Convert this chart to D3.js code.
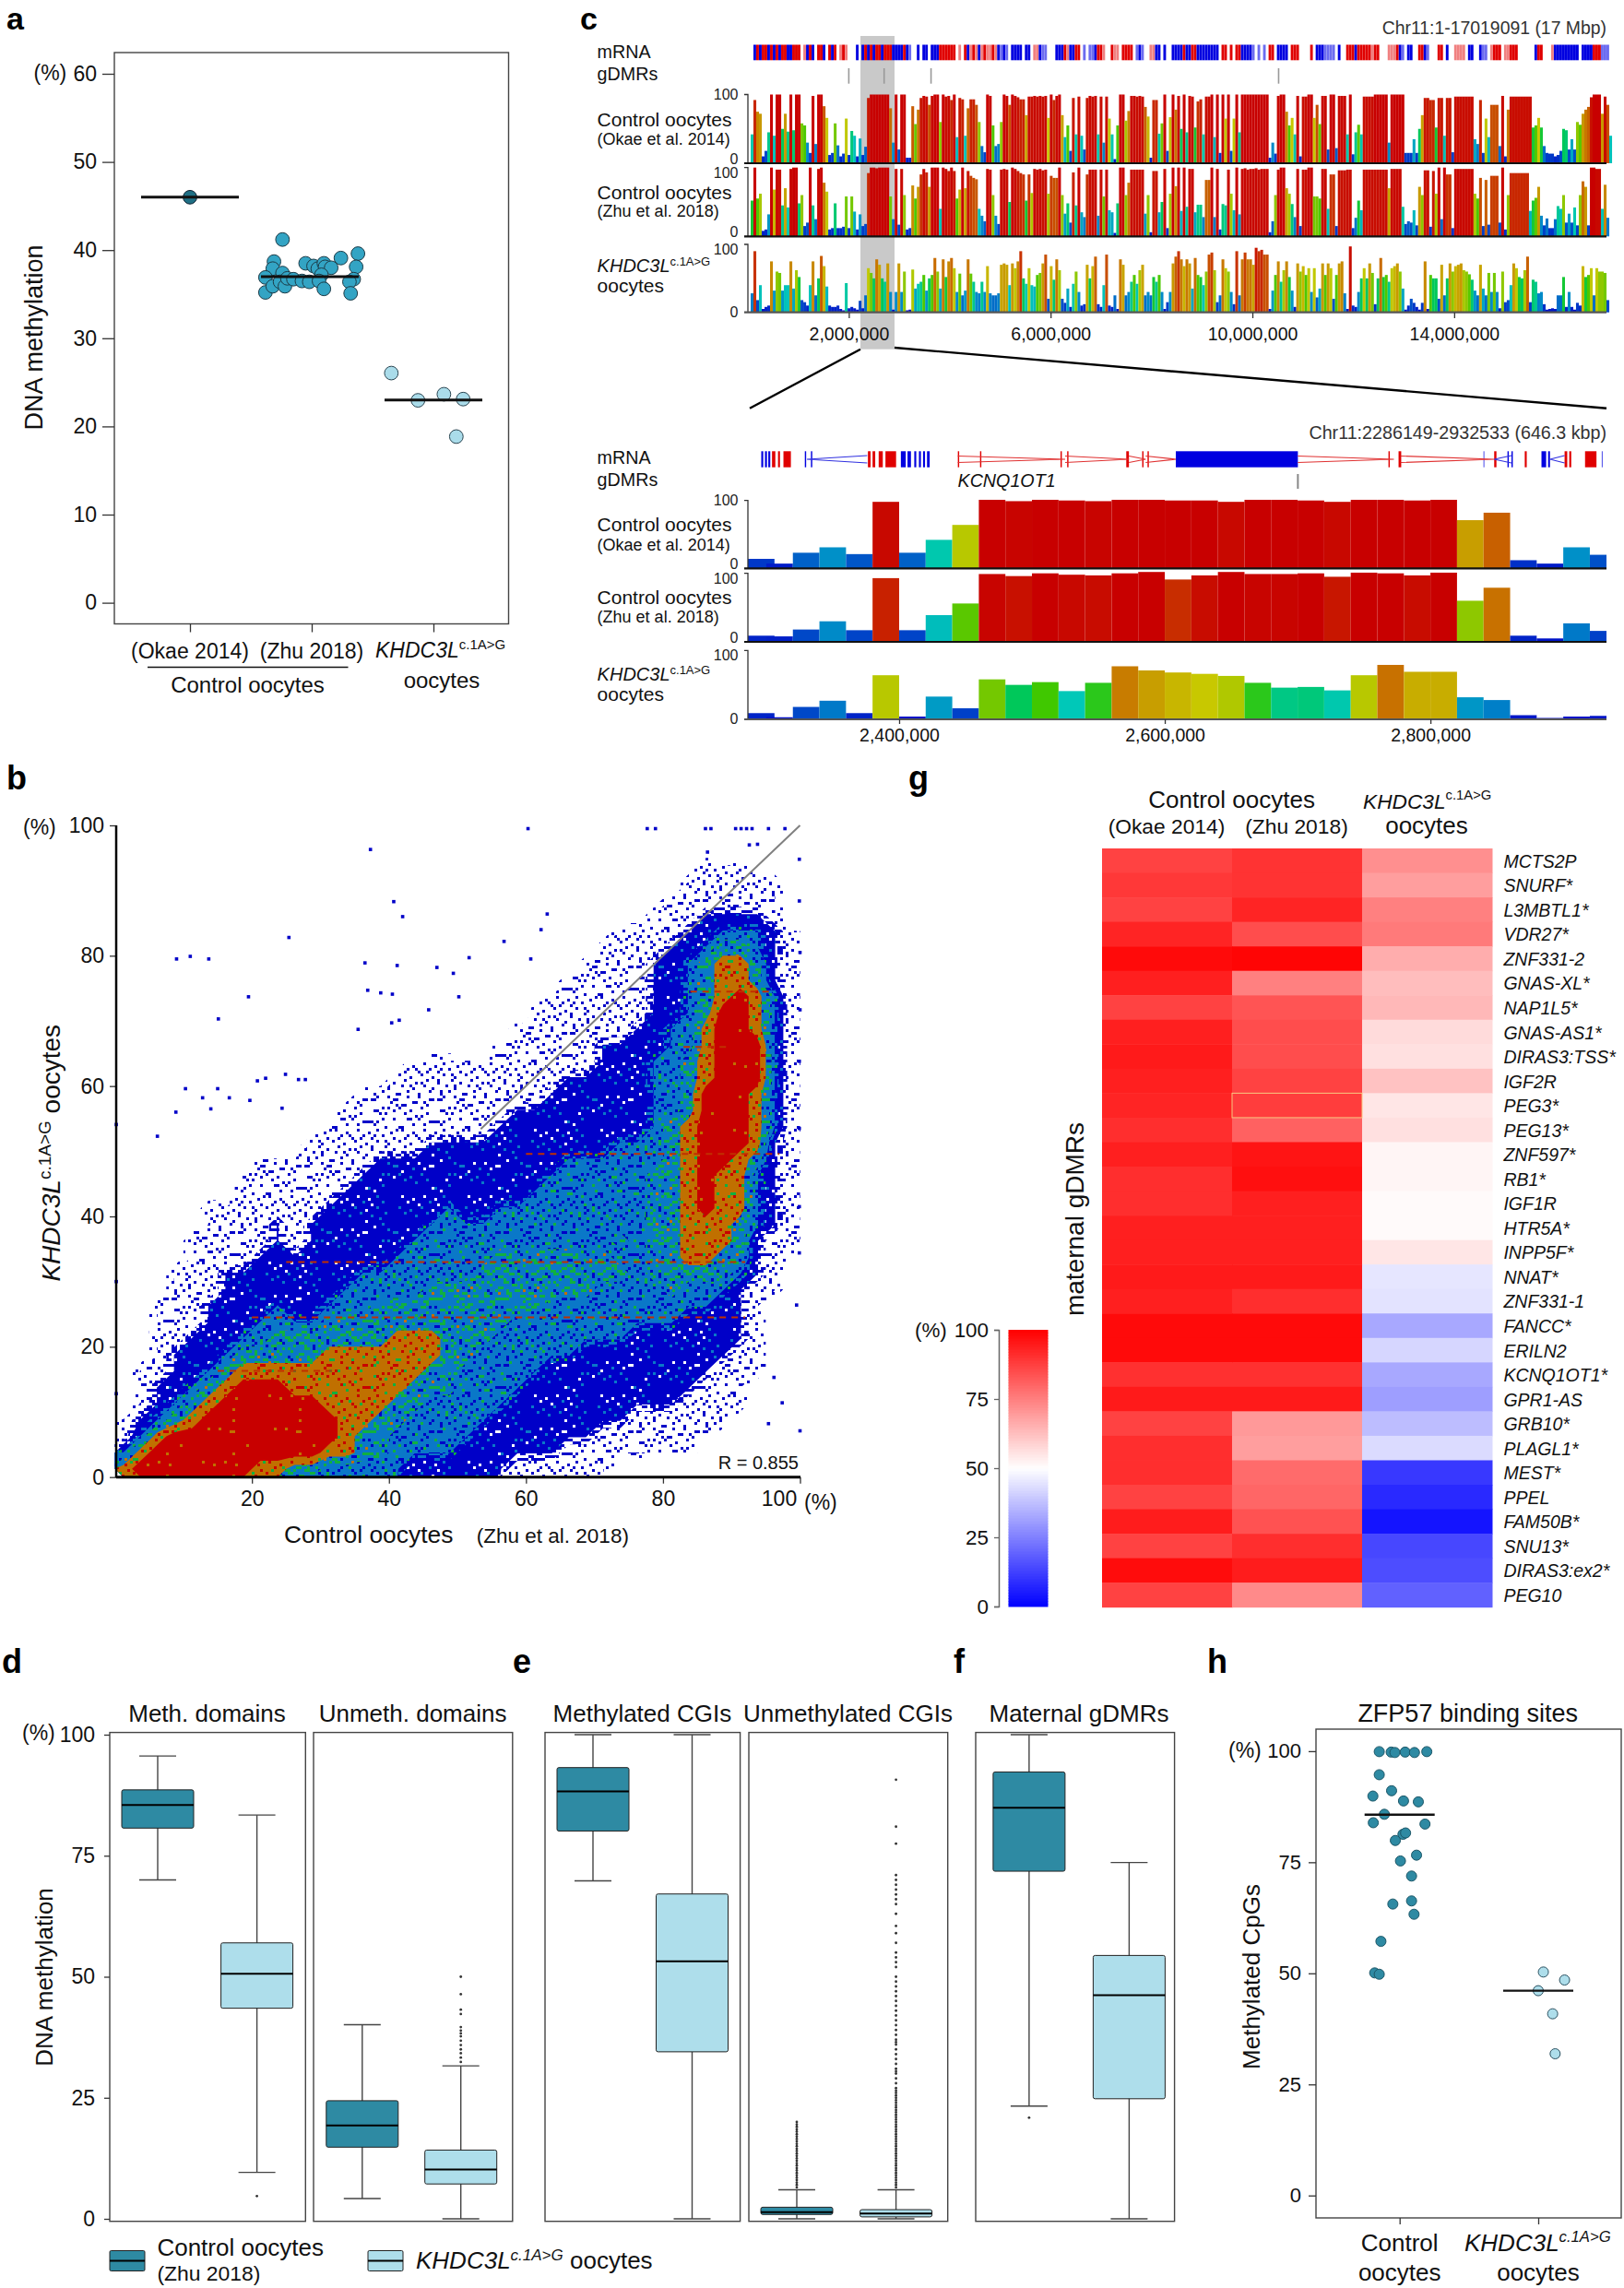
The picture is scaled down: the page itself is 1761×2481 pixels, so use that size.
<!DOCTYPE html>
<html>
<head>
<meta charset="utf-8">
<script src="https://cdn.jsdelivr.net/npm/d3@7"></script>
<style>
  html, body { margin: 0; background: #fff; }
  svg { display: block; }
</style>
</head>
<body>
<script>
// ---- panel a
const aCategories = ["(Okae 2014)", "(Zhu 2018)", "KHDC3L"];
const aTicks = [0, 10, 20, 30, 40, 50, 60];
const aMedians = [46, 37, 23];
const okaeMeth = [46];
const zhuJitter = [-0.24,-0.31,-0.32,-0.38,-0.38,-0.32,-0.24,-0.26,-0.22,-0.2,-0.15,-0.08,-0.02,-0.05,0.015,0.05,0.1,0.11,0.16,0.08,0.06,0.1,0.24,0.38,0.365,0.345,0.31,0.32];
const zhuMeth = [41.2,38.7,37.9,36.9,35.2,35.9,37.4,36.4,35.9,36.8,36.7,36.5,36.4,38.5,38.2,37.9,38.5,38.1,38,37.2,36.5,35.6,39.1,39.6,38.1,36.7,36.4,35.1];
const khdcJitter = [-0.346,-0.127,0.086,0.244,0.188];
const khdcMeth = [26.05,22.96,23.65,23.1,18.85];

// ---- panel b: density levels, one string per 2.5% row, top row first
// 0 empty, 1 sparse, 2 dense blue, 3 light blue, 4 green, 5 orange, 6 red
const densityRows = [
  "0000000000 0000000000 0000000000 0000000000",
  "0000000000 0000000000 0000000000 0000000000",
  "0000000000 0000000000 0000000000 0000111000",
  "0000000000 0000000000 0000000000 0001111110",
  "0000000000 0000000000 0000000000 0011111110",
  "0000000000 0000000000 0000000000 0111222210",
  "0000000000 0000000000 0000000001 1112233321",
  "0000000000 0000000000 0000000011 1122344321",
  "0000000000 0000000000 0000000111 1223455421",
  "0000000000 0000000000 0000001111 1223455421",
  "0000000000 0000000000 0000011111 1223456531",
  "0000000000 0000000000 0000111111 1223466531",
  "0000000000 0000000000 0001111111 2233566531",
  "0000000000 0000000000 0011111122 2233566631",
  "0000000000 0000000111 1111111122 2334566631",
  "0000000000 0000001111 1111112222 2334566631",
  "0000000000 0000111111 1111122222 2334666531",
  "0000000000 0001111111 1112222222 2334666531",
  "0000000000 0011111111 1122222222 2345666531",
  "0000000000 0111111122 2222222223 3345666521",
  "0000000011 1111122222 2222223333 3345665421",
  "0000000111 1111222222 2222233333 3445655321",
  "0000000111 1112222222 2222333333 3445655321",
  "0000011111 1122222223 2233333333 3445655321",
  "0000011112 1222222233 3333333333 3445554321",
  "0000111112 1222222333 3333333334 3445554211",
  "0000111122 2222223333 3344444443 3445544211",
  "0001112222 2222333333 3444444444 3444443210",
  "0001112222 2223333344 4444444433 3343332110",
  "0011122223 2233344444 4444433333 3333322100",
  "0011122233 3344444444 4443333333 3332222100",
  "0011222334 4444445554 4433333333 2222222100",
  "0012223444 4455555554 4333333222 2222221100",
  "0112234555 5555555544 3333322222 2222211100",
  "0122345666 5555555444 3333222222 2222111000",
  "0123456666 6655554433 3332222222 2221111000",
  "1234566666 6665544333 3322222222 1111110000",
  "1356666666 6665443333 3222222211 1111100000",
  "3566666666 6655443333 2222221111 1111000000",
  "5666666655 4433333222 2221111110 0000000000"
];
// single points outside the dense cloud
const looseX = [60.3,77.7,78.9,86.2,87,90.6,91.4,92.2,93,95.4,97.8,37.3,40.7,42,25.4,9,11,13.7,19.5,15.1,36.5,41.2,36.9,38.8,40.5,47,45.8,40.4,41.5,35.5,49.4,51.7,50.2,56.8,60.7,63.1,62.2,0.2,6.2,8.9,10.3,15,12.8,14,16.7,20.8,22,19.7,24.9,24.4,26.8,27.8,0.2,0.2,99.9,99.9,100,95.4,97.4,96.2,99.5,99.9,99.9,99.9,99.9,100,100,93.8,92.6,86.5];
const looseY = [99.5,99.5,99.5,99.5,99.5,99.5,99.5,99.5,99.5,99.5,99.5,96.3,88.3,86,82.8,79.5,79.9,79.5,73.7,70.3,78.9,78.5,74.7,74.3,74.1,78.2,71.7,69.7,70.1,68.7,77.3,79.7,73.7,82.2,79.5,86.4,84,54.1,52.3,56,59.6,59.6,58.2,56.5,58.2,60.8,61.2,57.8,61.8,56.6,61,61,30,12.8,94.8,88.4,7.1,8.2,11.4,15.3,26.4,34.4,41.5,53.5,63.8,71.7,80.5,97.1,97,95.9];
const streakY = [49.6, 74.5, 66, 33, 24.5, 16.3];
const streakFrom = [60, 84, 83, 25, 20, 15];
const streakTo = [97, 96, 90, 92, 92, 32];
const bTicks = [20, 40, 60, 80, 100];
const bYTicks = [0, 20, 40, 60, 80, 100];

// ---- panel c, whole region: one value per 55 kb bin
const chrTicks = [2000000, 6000000, 10000000, 14000000];
const chrGdmrs = [2000000, 2700000, 3630000, 10520000];
const chrMeth1 = [
  0,42,92,75,72,10,18,45,100,40,100,100,50,72,46,100,48,100,100,58,55,30,15,98,28,100,100,83,66,12,15,58,26,10,14,65,12,47,40,10,
  36,12,24,95,100,100,100,100,100,100,100,80,30,100,20,100,100,8,8,83,57,78,95,98,97,85,98,100,100,60,100,97,98,92,100,38,95,93,40,80,
  93,93,85,60,25,16,100,98,55,25,28,60,100,98,85,100,98,96,93,93,70,97,
  97,98,97,98,97,98,66,100,92,98,100,70,38,55,18,95,42,97,40,20,95,98,97,98,42,97,30,97,65,42,6,55,100,100,62,76,98,98,97,98,97,82,68,8,92,92,43,58,100,18,67,100,78,98,50,100,45,98,97,52,90,93,42,97,97,100,38,100,15,100,65,100,18,65,100,45,100,100,100,100,100,100,100,100,100,100,8,30,14,98,100,100,75,55,66,42,98,10,97,97,100,100,66,85,57,
  98,98,20,100,100,22,98,98,98,42,100,13,45,56,42,97,97,97,97,100,100,100,100,100,30,100,100,100,100,100,15,15,15,35,15,50,70,95,95,92,92,52,95,95,40,95,95,16,97,97,97,97,97,97,97,35,28,92,15,65,38,85,85,85,25,98,10,78,97,97,97,97,97,97,97,97,52,55,66,52,25,15,14,14,10,12,18,50,48,20,35,20,60,56,72,78,82,96,100,100,100,72,97,85,40
];
const chrMeth2 = [
  0,52,100,55,62,8,10,32,100,68,97,97,45,70,42,98,100,100,48,60,15,20,100,45,25,98,100,78,65,10,12,48,12,12,14,58,12,58,36,10,
  32,15,18,92,100,100,99,100,100,100,100,58,25,98,17,98,60,10,12,74,55,72,90,98,93,72,100,100,100,40,100,98,95,100,95,55,68,100,70,95,
  88,85,83,40,30,22,98,97,60,30,18,97,98,97,50,100,98,95,92,90,52,90,
  63,98,97,98,96,97,62,88,85,85,100,60,33,48,20,93,45,100,35,28,90,97,97,97,30,97,58,97,38,35,5,48,100,100,60,78,97,97,97,97,97,33,60,6,95,95,35,50,98,12,62,100,73,100,37,100,43,98,98,35,46,46,28,82,82,100,28,98,10,47,45,97,62,38,100,32,98,99,97,98,98,99,97,98,98,98,6,22,60,97,100,100,70,62,47,28,98,15,97,97,100,100,58,58,55,
  98,98,40,90,90,15,96,96,96,97,97,12,27,52,38,97,97,97,97,97,97,97,97,97,70,98,98,98,98,43,18,22,20,38,16,72,60,96,96,14,95,62,100,25,100,90,90,12,98,98,98,98,98,98,98,62,55,85,15,82,17,88,88,88,20,100,10,60,92,92,92,92,92,92,92,37,52,56,72,30,16,26,12,12,25,44,40,60,20,33,20,42,16,60,80,72,16,100,100,98,98,40,75,27
];
const chrMeth3 = [
  0,28,90,18,40,5,8,10,75,32,60,58,32,40,40,75,35,62,52,18,15,10,40,75,25,50,83,68,38,10,8,8,10,5,3,43,6,8,6,4,
  17,6,25,65,58,50,78,70,50,45,72,30,4,30,72,30,60,3,4,63,35,42,45,55,32,50,55,80,60,35,78,52,75,80,65,30,57,25,32,78,
  57,45,30,28,45,30,68,28,25,25,28,70,72,70,40,72,65,75,90,50,42,65,
  40,38,55,58,72,85,20,68,48,78,62,20,14,35,8,42,60,30,10,12,70,50,68,82,12,8,40,85,10,8,25,5,78,70,25,30,45,55,42,62,70,25,30,25,52,45,55,30,5,15,30,72,82,90,78,68,78,72,35,80,55,52,40,60,85,88,62,15,25,78,65,60,30,12,90,25,78,88,78,78,70,95,90,92,85,85,5,32,55,75,45,62,75,52,32,8,72,60,68,55,65,30,65,22,35,
  72,55,72,65,20,55,72,75,28,5,97,10,8,30,50,65,50,72,58,12,50,80,52,55,45,65,68,72,60,35,4,10,20,14,8,4,14,75,5,55,50,50,20,70,25,50,72,60,68,70,72,62,60,56,48,32,25,70,35,25,58,30,58,30,6,60,15,18,40,72,65,52,50,62,82,15,48,45,28,30,12,4,5,6,5,25,25,52,8,30,8,4,14,10,68,52,55,65,25,65,60,60,58,18
];
// strand of the transcript in each bin: r plus, b minus, m / l thin, . none
const chrMrna = [
  "..brbrrbrb","rbrrbbrrr.","mbrb.rrb.r","br.mrm...b",".brbrbrrbr","rrbbbbrbl.",".b.bb.bbbr","rrrrr.m.rb","mrmbmrmmrm","blbl.bbbb.","bb",
  ".mmbll...b","bbrmbbrr.l",".llbrrm..r","mm.rrrr.lb","l..mmbb.b.",".bbbbrbbrr","bbbbbbbb.r","r.r.rrbbbb","l.l.l.rr.b","bbb.rrr...",".r.bb",
  "bllll.b..r","rrbrrrrrmr","r...mmmrbl",".bb..rrbl.","..rr.b..mm","mm.bb..bll",".mrrr.mmrr","r......brr","...mbbbbbb","bbb.bbbbrr","rlll"
].join("");

// ---- panel c, zoomed region: 20 kb windows
const zoomStarts = [2286149,2300000,2320000,2340000,2360000,2380000,2400000,2420000,2440000,2460000,2480000,2500000,2520000,2540000,2560000,2580000,2600000,2620000,2640000,2660000,2680000,2700000,2720000,2740000,2760000,2780000,2800000,2820000,2840000,2860000,2880000,2900000,2920000];
const zoomMeth1 = [14,7,23,31,21,98,23,42,64,101,99,101,100,99,101,101,100,100,98,101,101,100,98,101,101,100,101,71,82,12,7,31,20];
const zoomMeth2 = [9,8,18,30,17,93,17,39,56,99,96,100,98,97,100,102,91,97,102,99,99,100,95,101,100,97,101,60,79,9,5,27,16];
const zoomMeth3 = [9,3,18,27,9,64,4,33,16,58,50,54,41,53,77,71,68,66,63,53,46,47,42,64,79,69,69,32,28,6,2,4,5];
const zoomTicks = [2400000, 2600000, 2800000];
const zoomGdmr = [2700200];
// exons in kb
const blueExonFrom = [2296.2,2299,2301.5,2329,2333.6,2401.3,2406.3,2411.4,2414.9,2418,2421,2608.3,2840,2858,2861,2883.6,2888.6,2929];
const blueExonTo = [2297.7,2300.5,2303,2330,2334.6,2405,2408.9,2412.9,2416.4,2419.5,2423,2700.2,2840.5,2859,2862,2887.1,2890,2929.5];
const redExonFrom = [2304.3,2308.8,2312.9,2376.5,2380,2384.6,2389.7,2444.2,2460.9,2521.5,2526.5,2571,2583,2587,2768.4,2776,2848,2871,2901,2904.5,2916.4];
const redExonTo = [2306.8,2310.3,2318.5,2378.5,2382,2387.7,2397.7,2445.2,2461.9,2522.5,2527.5,2573,2584,2588,2769.4,2778,2849.7,2872.5,2903,2906,2925];
const redIntronFrom = [2444.2,2525,2573,2585.6,2700.2,2777.5];
const redIntronTo = [2525,2573,2585.6,2608.3,2772.5,2848];
const blueIntronFrom = [2330.6,2848,2890];
const blueIntronTo = [2376,2861,2901];

// ---- panels d, e, f: control box then KHDC3L box of every panel
const boxTitles = ["Meth. domains","Unmeth. domains","Methylated CGIs","Unmethylated CGIs","Maternal gDMRs"];
const boxTicks = [0, 25, 50, 75, 100];
const whiskerHigh = [95.6,83.4,40.1,31.6,100,100,6,6,100,73.6];
const quartile3 = [88.6,57,24.4,14.2,93.2,67.1,2.4,1.9,92.3,54.4];
const medians = [85.5,50.6,19.3,10.2,88.3,53.2,1.4,1.1,84.9,46.2];
const quartile1 = [80.7,43.5,14.8,7.2,80.1,34.5,0.9,0.4,71.8,24.8];
const whiskerLow = [70,9.6,4.2,0,69.8,0,0,0,23.3,0];
const boxOutliers = [
  [], [4.7], [],
  [50,46.4,43.2,42.3,39.6,38.9,38.3,37.7,36.8,35.9,35,34.2,33.3,32.4],
  [], [],
  [6.5,7,7.5,8,8.5,9,9.5,10,10.5,11,11.5,12,12.5,13,13.5,14,14.5,15,15.5,16,16.5,17,17.5,18,18.5,19,19.5,20],
  [6.5,7,7.5,8,8.5,9,9.5,10,10.5,11,11.5,12,12.5,13,13.5,14,14.5,15,15.5,16,16.5,17,17.5,18,18.5,19,19.5,20,20.5,21,21.5,22,22.5,23,23.5,24,24.5,25,25.5,26,26.5,27,28,29,30,30.5,31,32,33,34,35,36,36.5,37,38,39,40,41,42,43,44,45,46,47,48,49,50,52,53,54,55,57,59,60.5,63,65,66,67,68,69,70,71,77.5,81,90.7],
  [20.9], []
];

// ---- panel g
const genes = ["MCTS2P","SNURF*","L3MBTL1*","VDR27*","ZNF331-2","GNAS-XL*","NAP1L5*","GNAS-AS1*","DIRAS3:TSS*","IGF2R","PEG3*","PEG13*","ZNF597*","RB1*","IGF1R","HTR5A*","INPP5F*","NNAT*","ZNF331-1","FANCC*","ERILN2","KCNQ1OT1*","GPR1-AS","GRB10*","PLAGL1*","MEST*","PPEL","FAM50B*","SNU13*","DIRAS3:ex2*","PEG10"];
const heatOkae = [87,89,87,93,98,94,87,94,95,94,93,91,94,91,91,94,94,95,94,98,98,90.6,95,87,91,91,87,94.5,87,97.6,87];
const heatZhu = [90,90,93,85,99,75,83.5,85,85,87,88,81,96,97,94,94,94,95,91,98,98,90.6,95,70,69,79,80,84,91,94.5,73];
const heatKhdc = [72,69,75,76,66,63,64,57,56,62,55,56,52,52,51,51,55,45,44.5,33,42,33,31,37,43,11,8,4,14,15,19];
const heatTicks = [0, 25, 50, 75, 100];

// ---- panel h
const hTicks = [0, 25, 50, 75, 100];
const hControlJitter = [-0.147,-0.061,-0.034,0.04,0.107,0.196,-0.147,-0.058,-0.193,0.028,0.135,-0.11,-0.19,0.183,0.024,0.043,-0.031,0.122,0.006,0.086,0.086,-0.049,0.104,-0.135,-0.18,-0.147];
const hControlMeth = [99.9,99.8,99.7,99.8,99.7,99.9,94.7,91.1,89.9,88.8,88.6,85.8,83.9,83.6,81.3,81.6,79.9,76.6,75.3,71.9,66.3,65.6,63.3,57.2,50.1,49.8];
const hKhdcJitter = [0.037,0.19,0,0.104,0.122];
const hKhdcMeth = [50.3,48.5,46.1,40.9,31.9];
const hMedians = [85.7, 46.1];

const FONT = "'Liberation Sans', Arial, sans-serif";
const DARK = "#2e8aa3";
const LIGHT = "#aedeeb";

const svg = d3.select("body").append("svg")
  .attr("width", 1761)
  .attr("height", 2481)
  .attr("font-family", FONT);

// helpers
const txt = (sel, x, y, s, size, opt = {}) => sel.append("text")
  .attr("x", x).attr("y", y)
  .attr("font-size", size)
  .attr("text-anchor", opt.anchor || "start")
  .attr("font-style", opt.italic ? "italic" : "normal")
  .attr("font-weight", opt.bold ? "bold" : "normal")
  .attr("fill", opt.fill || "#111")
  .text(s);

const vtxt = (x, y, s, size) => txt(svg.append("g").attr("transform", `translate(${x},${y}) rotate(-90)`), 0, 0, s, size, {anchor: "middle"});

// KHDC3L with the raised c.1A>G
const khdc = (sel, x, y, size, supSize, rise, supItalic) => {
  const t = sel.append("text").attr("x", x).attr("y", y).attr("fill", "#111");
  t.append("tspan").attr("font-size", size).attr("font-style", "italic").text("KHDC3L");
  t.append("tspan").attr("font-size", supSize).attr("dy", -rise)
    .attr("font-style", supItalic ? "italic" : "normal").text("c.1A>G");
  return t;
};

const styleAxis = (g, size) => {
  g.select(".domain").remove();
  g.selectAll("text").attr("font-size", size).attr("font-family", FONT).attr("fill", "#111");
  g.selectAll("line").attr("stroke", "#333").attr("stroke-width", 1.3);
};

const frame = (x0, x1, y0, y1) => svg.append("rect")
  .attr("x", x0).attr("y", y0).attr("width", x1 - x0).attr("height", y1 - y0)
  .attr("fill", "none").attr("stroke", "#444").attr("stroke-width", 1.4);

const dots = (xs, ys, r, fill, stroke) => {
  svg.append("g").selectAll("circle").data(xs).join("circle")
    .attr("cx", d => d).attr("cy", (d, i) => ys[i]).attr("r", r)
    .attr("fill", fill).attr("stroke", stroke).attr("stroke-width", 1);
};

const hline = (x0, x1, y, w, color) => svg.append("line")
  .attr("x1", x0).attr("x2", x1).attr("y1", y).attr("y2", y)
  .attr("stroke", color || "#111").attr("stroke-width", w);

// panel letters
const letterX = ["a","b","c","d","e","f","g","h"];
const letterPos = [[7,32],[7,856],[629,32],[2,1814],[556,1814],[1034,1814],[985,856],[1309,1814]];
letterX.forEach((l, i) => txt(svg, letterPos[i][0], letterPos[i][1], l, i === 0 || i === 2 ? 34 : 36, {bold: true, fill: "#000"}));

// ---------- panel a
{
  const y = d3.scaleLinear().domain([0, 60]).range([653.6, 80]);
  const x = d3.scaleLinear().domain([1, 3]).range([206, 470]);
  frame(124, 551.5, 57, 676.5);
  svg.append("g").attr("transform", "translate(124,0)")
    .call(d3.axisLeft(y).tickValues(aTicks).tickSize(13).tickPadding(6))
    .call(styleAxis, 23);
  svg.append("g").attr("transform", "translate(0,676.5)")
    .call(d3.axisBottom(x).tickValues([1, 2, 3]).tickSize(9).tickFormat(""))
    .call(styleAxis, 23);
  txt(svg, 36.5, 87, "(%)", 23);

  dots(okaeMeth.map(() => x(1)), okaeMeth.map(y), 7.4, "#1f6f84", "#123");
  dots(zhuJitter.map(d => x(2 + d)), zhuMeth.map(y), 7.4, "#33a4c4", "#1c3a46");
  dots(khdcJitter.map(d => x(3 + d)), khdcMeth.map(y), 7.4, "#aadcea", "#2a4450");
  hline(x(1) - 53, x(1) + 53, y(aMedians[0]), 3);
  hline(x(2) - 55, x(2) + 51, y(aMedians[1]), 3);
  hline(x(3) - 53, x(3) + 53, y(aMedians[2]), 3);

  txt(svg, x(1), 714, aCategories[0], 23, {anchor: "middle"});
  txt(svg, x(2), 714, aCategories[1], 23, {anchor: "middle"});
  khdc(svg, 407, 713, 23, 15, 9);
  txt(svg, 479, 746, "oocytes", 24, {anchor: "middle"});
  txt(svg, 268.5, 751, "Control oocytes", 24, {anchor: "middle"});
  hline(160, 377.5, 723.5, 1.3);
  vtxt(46, 366, "DNA methylation", 27);
}

// ---------- panel b
{
  const x = d3.scaleLinear().domain([0, 100]).range([124.6, 867.5]);
  const y = d3.scaleLinear().domain([0, 100]).range([1601.7, 895]);

  // speckle tiles so the density bands read like overplotted points
  const speck = [[1,0],[5,1],[9,0],[3,2],[7,3],[11,2],[0,4],[4,5],[8,4],[2,6],[10,6],[6,7],[1,8],[5,9],[9,8],[3,10],[7,11],[11,10],[0,11],[8,7],[2,3],[10,3],[6,2],[4,8],[0,6],[8,10],[6,5],[3,7],[11,5],[1,10],[5,4],[9,11],[7,0],[2,9],[10,9],[4,2]];
  const spread = list => list.flatMap(([c, r]) => [[c, r], [r + 12, (c * 5) % 12], [(c * 7) % 12, r + 12], [(r * 5) % 12 + 12, (c + r) % 12 + 12]]);
  const defs = svg.append("defs");
  const tile = (id, bg, layers) => {
    const p = defs.append("pattern").attr("id", id).attr("patternUnits", "userSpaceOnUse")
      .attr("width", 72).attr("height", 72);
    if (bg) p.append("rect").attr("width", 72).attr("height", 72).attr("fill", bg);
    layers.forEach(([from, to, color, shift]) => {
      spread(speck.slice(from, to)).forEach(([c, r]) => {
        p.append("rect").attr("x", ((c + (shift || 0)) % 24) * 3).attr("y", r * 3).attr("width", 3).attr("height", 3).attr("fill", color);
      });
    });
  };
  const BLUE = "#0000c8", MID = "#0a78c8", GREEN = "#10b040";
  tile("lv1", null, [[0, 12, BLUE]]);
  tile("lv1b", null, [[0, 24, BLUE]]);
  tile("lv1c", null, [[0, 36, BLUE], [0, 36, BLUE, 1]]);
  tile("lv2", BLUE, [[0, 5, "#ffffff"], [5, 12, MID]]);
  tile("lv3a", BLUE, [[0, 30, MID], [0, 14, MID, 1], [30, 33, GREEN]]);
  tile("lv3b", MID, [[0, 22, BLUE], [22, 30, GREEN]]);
  tile("lv4", MID, [[0, 24, GREEN], [0, 10, GREEN, 1], [24, 32, BLUE], [32, 34, "#c07000"]]);
  tile("lv5", "#c07000", [[0, 16, "#c80000"], [16, 24, GREEN]]);
  tile("lv6", "#c80000", [[0, 3, "#c07000"]]);

  const grid = densityRows.join("").replace(/ /g, "").split("").map(Number);
  const levelCuts = [0.5, 0.95, 1.5, 1.95, 2.5, 2.95, 3.5, 4.5, 5.5];
  const fills = ["lv1", "lv1b", "lv1c", "lv2", "lv3a", "lv3b", "lv4", "lv5", "lv6"];
  const bands = d3.contours().size([40, 40]).thresholds(levelCuts)(grid);
  const path = d3.geoPath(d3.geoTransform({
    point(px, py) { this.stream.point(x(px * 2.5), y(100 - py * 2.5)); }
  }));
  svg.append("g").selectAll("path").data(bands).join("path")
    .attr("d", path).attr("fill", (d, i) => `url(#${fills[i]})`);

  svg.append("g").selectAll("rect").data(looseX).join("rect")
    .attr("x", d => x(d) - 1.8).attr("y", (d, i) => y(looseY[i]) - 1.8)
    .attr("width", 3.6).attr("height", 3.6).attr("fill", "#0000c8");

  svg.append("g").selectAll("line").data(streakY).join("line")
    .attr("x1", (d, i) => x(streakFrom[i])).attr("x2", (d, i) => x(streakTo[i]))
    .attr("y1", d => y(d)).attr("y2", d => y(d))
    .attr("stroke", "#c03000").attr("stroke-width", 2).attr("stroke-dasharray", "7 6");

  svg.append("line").attr("x1", x(53.4)).attr("y1", y(53.4)).attr("x2", x(100)).attr("y2", y(100))
    .attr("stroke", "#808080").attr("stroke-width", 2);

  svg.append("g").attr("transform", "translate(126,0)")
    .call(d3.axisLeft(y).tickValues(bYTicks).tickSize(7).tickPadding(6))
    .call(styleAxis, 23);
  svg.append("g").attr("transform", "translate(0,1601.7)")
    .call(d3.axisBottom(x).tickValues(bTicks).tickSize(7).tickPadding(8))
    .call(styleAxis, 23)
    .call(g => g.selectAll("text").filter(d => d === 100).attr("dx", -23));
  svg.append("line").attr("x1", 126).attr("x2", 126).attr("y1", 895).attr("y2", 1602).attr("stroke", "#000").attr("stroke-width", 2.5);
  hline(126, 868, 1601.7, 3, "#000");

  txt(svg, 25, 905, "(%)", 23);
  txt(svg, 872, 1636.5, "(%)", 23);
  txt(svg, 866, 1593, "R = 0.855", 20, {anchor: "end"});
  txt(svg, 308, 1673, "Control oocytes", 26.4);
  txt(svg, 516.8, 1673, "(Zhu et al. 2018)", 22.5);
  const g = svg.append("g").attr("transform", "translate(64.7,1389.6) rotate(-90)");
  const t = khdc(g, 0, 0, 28, 19, 10);
  t.append("tspan").attr("font-size", 28).attr("dy", 10).text(" oocytes");
}

// ---------- panel c
{
  const xChr = d3.scaleLinear().domain([0, 17019091]).range([811, 1742]);
  const xZoom = d3.scaleLinear().domain([2286149, 2932533]).range([811, 1742]);
  const methColor = d3.scaleLinear()
    .domain([0, 20, 31, 41, 51, 54, 62, 66, 70, 82, 96, 100])
    .range(["#0000c8","#0050c8","#0090c8","#00c8b8","#00c850","#40c800","#a8c800","#c8c800","#c8a400","#c86000","#c81000","#c80000"])
    .clamp(true);
  const binBp = 17019091 / 310;

  // highlighted window and the lines down to the zoomed view
  svg.append("rect").attr("x", 933).attr("y", 39).attr("width", 37).attr("height", 339.7).attr("fill", "#c9c9c9");
  svg.append("line").attr("x1", 933).attr("y1", 378.7).attr("x2", 813).attr("y2", 442.7).attr("stroke", "#000").attr("stroke-width", 2.4);
  svg.append("line").attr("x1", 970).attr("y1", 377).attr("x2", 1742).attr("y2", 442.7).attr("stroke", "#000").attr("stroke-width", 2.4);

  const tracks = (rows, drawBars) => rows.forEach((r, ri) => {
    const y = d3.scaleLinear().domain([0, 100]).range([r.y0, r.y100]);
    drawBars(r, y);
    svg.append("path").attr("d", `M807,${r.y100}H811V${r.y0}`).attr("fill", "none").attr("stroke", "#333").attr("stroke-width", 1.3);
    hline(807, 1742, r.y0, 2.2, ri === 2 ? "#555" : "#111");
    txt(svg, 800.5, r.y100 + (ri === 0 ? 5 : 11), "100", 16, {anchor: "end", fill: "#222"});
    txt(svg, 800.5, r.y0 + (ri === 2 ? 5 : 0.5), "0", 16, {anchor: "end", fill: "#222"});
    if (ri < 2) {
      txt(svg, 647.6, r.l1, "Control oocytes", 21);
      txt(svg, 647.6, r.l2, ri === 0 ? "(Okae et al. 2014)" : "(Zhu et al. 2018)", 18);
    } else {
      khdc(svg, 647.6, r.l1, 20, 13, 7);
      txt(svg, 647.6, r.l2, "oocytes", 21);
    }
  });

  // whole region
  txt(svg, 1742, 37, "Chr11:1-17019091 (17 Mbp)", 19.4, {anchor: "end", fill: "#333"});
  txt(svg, 647.6, 63, "mRNA", 19.7);
  txt(svg, 647.6, 86.7, "gDMRs", 19.7);
  const strandFill = {r: "#e00000", b: "#0000e0", m: "#f08080", l: "#6c6cf0"};
  svg.append("g").selectAll("rect")
    .data(chrMrna.split("").map((s, i) => ({s, i})).filter(d => d.s !== "."))
    .join("rect")
    .attr("x", d => xChr(d.i * binBp)).attr("width", 2.9)
    .attr("y", 48.5).attr("height", 16.8)
    .attr("fill", d => strandFill[d.s]);
  svg.append("g").selectAll("line").data(chrGdmrs).join("line")
    .attr("x1", d => xChr(d)).attr("x2", d => xChr(d)).attr("y1", 74).attr("y2", 90.7)
    .attr("stroke", "#999").attr("stroke-width", 1.6);

  tracks([
    {vals: chrMeth1, y0: 177, y100: 102.5, l1: 136.7, l2: 156.7},
    {vals: chrMeth2, y0: 256.3, y100: 181.7, l1: 216, l2: 235.3},
    {vals: chrMeth3, y0: 338.7, y100: 265, l1: 295, l2: 317}
  ], (r, y) => {
    svg.append("g").selectAll("rect").data(r.vals).join("rect")
      .attr("x", (d, i) => xChr(i * binBp)).attr("width", 3.05)
      .attr("y", d => y(d)).attr("height", d => y(0) - y(d))
      .attr("fill", d => methColor(d));
  });
  svg.append("g").attr("transform", "translate(0,339)")
    .call(d3.axisBottom(xChr).tickValues(chrTicks).tickSize(6).tickPadding(10).tickFormat(d3.format(",")))
    .call(styleAxis, 19.5);

  // zoomed region
  txt(svg, 1742, 476, "Chr11:2286149-2932533 (646.3 kbp)", 19.7, {anchor: "end", fill: "#333"});
  txt(svg, 647.6, 503, "mRNA", 19.7);
  txt(svg, 647.6, 527, "gDMRs", 19.7);
  txt(svg, 1038.5, 528, "KCNQ1OT1", 19.7, {italic: true});
  const kb = d => xZoom(d * 1000);
  const exons = (from, to, color) => svg.append("g").selectAll("rect").data(from).join("rect")
    .attr("x", d => kb(d)).attr("width", (d, i) => kb(to[i]) - kb(d))
    .attr("y", 489.3).attr("height", 17.4).attr("fill", color);
  exons(blueExonFrom, blueExonTo, "#0000e0");
  exons(redExonFrom, redExonTo, "#e00000");
  redIntronFrom.forEach((d, i) => {
    svg.append("path").attr("d", `M${kb(d)},494.5L${kb(redIntronTo[i])},498L${kb(d)},501.5`)
      .attr("fill", "none").attr("stroke", "#e03030").attr("stroke-width", 1.2);
  });
  blueIntronFrom.forEach((d, i) => {
    svg.append("path").attr("d", `M${kb(blueIntronTo[i])},494L${kb(d)},498L${kb(blueIntronTo[i])},502`)
      .attr("fill", "none").attr("stroke", "#3030e0").attr("stroke-width", 1.2);
  });
  svg.append("g").selectAll("line").data(zoomGdmr).join("line")
    .attr("x1", d => xZoom(d * 1)).attr("x2", d => xZoom(d * 1)).attr("y1", 514).attr("y2", 530)
    .attr("stroke", "#888").attr("stroke-width", 2);

  tracks([
    {vals: zoomMeth1, y0: 616.3, y100: 542.7, l1: 576, l2: 596.7},
    {vals: zoomMeth2, y0: 696, y100: 621.7, l1: 655, l2: 675},
    {vals: zoomMeth3, y0: 780, y100: 705.3, l1: 738, l2: 760}
  ], (r, y) => {
    svg.append("g").selectAll("rect").data(r.vals).join("rect")
      .attr("x", (d, i) => xZoom(zoomStarts[i]))
      .attr("width", (d, i) => Math.min(xZoom(zoomStarts[i] + 20000), 1742) - xZoom(zoomStarts[i]))
      .attr("y", d => y(d)).attr("height", d => y(0) - y(d))
      .attr("fill", d => methColor(d));
  });
  svg.append("g").attr("transform", "translate(0,780)")
    .call(d3.axisBottom(xZoom).tickValues(zoomTicks).tickSize(5).tickPadding(5).tickFormat(d3.format(",")))
    .call(styleAxis, 19.5);
}

// ---------- panels d, e, f
{
  const y = d3.scaleLinear().domain([0, 100]).range([2406, 1881]);
  const frames = [[119,331.3],[340,555.8],[591,802.6],[812,1027.7],[1058,1273.6]];
  const centers = [[171,278.6],[392.8,499.7],[643,750.5],[864,971.6],[1115.9,1224.4]];
  const titleX = [224.5,447.6,696.4,919.5,1170];
  const sides = ["control", "khdc"];

  boxTitles.forEach((title, p) => {
    frame(frames[p][0], frames[p][1], 1878.6, 2408.7);
    txt(svg, titleX[p], 1866.7, title, 26, {anchor: "middle"});
    const x = d3.scalePoint().domain(sides).range(centers[p]);
    sides.forEach((side, s) => {
      const k = p * 2 + s;
      const cx = x(side);
      const g = svg.append("g");
      g.append("line").attr("x1", cx).attr("x2", cx).attr("y1", y(whiskerHigh[k])).attr("y2", y(whiskerLow[k]))
        .attr("stroke", "#444").attr("stroke-width", 1.4);
      [whiskerHigh[k], whiskerLow[k]].forEach(v => {
        g.append("line").attr("x1", cx - 20).attr("x2", cx + 20).attr("y1", y(v)).attr("y2", y(v))
          .attr("stroke", "#444").attr("stroke-width", 1.4);
      });
      g.append("rect").attr("x", cx - 39).attr("width", 78)
        .attr("y", y(quartile3[k])).attr("height", y(quartile1[k]) - y(quartile3[k]))
        .attr("rx", 2).attr("fill", s === 0 ? DARK : LIGHT).attr("stroke", "#222").attr("stroke-width", 1);
      g.append("line").attr("x1", cx - 39).attr("x2", cx + 39).attr("y1", y(medians[k])).attr("y2", y(medians[k]))
        .attr("stroke", "#000").attr("stroke-width", 2);
      g.selectAll("circle").data(boxOutliers[k]).join("circle")
        .attr("cx", cx).attr("cy", d => y(d)).attr("r", 1.4).attr("fill", "#333");
    });
  });

  svg.append("g").attr("transform", "translate(119,0)")
    .call(d3.axisLeft(y).tickValues(boxTicks).tickSize(6).tickPadding(10))
    .call(styleAxis, 23);
  txt(svg, 24, 1887, "(%)", 23);
  vtxt(57, 2144, "DNA methylation", 26);

  // legend
  const swatch = (x0, color) => {
    svg.append("rect").attr("x", x0).attr("y", 2440.5).attr("width", 38).attr("height", 22)
      .attr("rx", 1.5).attr("fill", color).attr("stroke", "#222");
    hline(x0, x0 + 38, 2451.5, 2, "#000");
  };
  swatch(119, DARK);
  swatch(399, LIGHT);
  txt(svg, 170.4, 2446, "Control oocytes", 26);
  txt(svg, 170.4, 2472.6, "(Zhu 2018)", 22.9);
  const t = khdc(svg, 451, 2460, 26, 17, 9, true);
  t.append("tspan").attr("font-size", 26).attr("dy", 9).text(" oocytes");
}

// ---------- panel g
{
  const columns = [heatOkae, heatZhu, heatKhdc];
  const x = d3.scaleBand().domain([0, 1, 2]).range([1195, 1618]);
  const y = d3.scaleBand().domain(genes).range([920, 1742.7]);
  const color = d3.scaleLinear().domain([0, 50, 100]).range(["#0000ff", "#ffffff", "#ff0000"]);

  columns.forEach((vals, c) => {
    svg.append("g").selectAll("rect").data(vals).join("rect")
      .attr("x", x(c)).attr("width", x.bandwidth() + 0.5)
      .attr("y", (d, i) => y(genes[i])).attr("height", y.bandwidth() + 0.5)
      .attr("fill", d => color(d));
  });
  // outlined cell
  svg.append("rect").attr("x", x(1)).attr("y", y("PEG3*")).attr("width", x.bandwidth()).attr("height", y.bandwidth())
    .attr("fill", "none").attr("stroke", "#f8c880").attr("stroke-width", 1);

  svg.append("g").selectAll("text").data(genes).join("text")
    .attr("x", 1630.4).attr("y", d => y(d) + y.bandwidth() / 2 + 7.5)
    .attr("font-size", 19.5).attr("font-style", "italic").attr("fill", "#111")
    .text(d => d);

  txt(svg, 1335.6, 876, "Control oocytes", 26, {anchor: "middle"});
  txt(svg, 1265, 903.5, "(Okae 2014)", 22.8, {anchor: "middle"});
  txt(svg, 1406, 903.5, "(Zhu 2018)", 22.8, {anchor: "middle"});
  khdc(svg, 1478, 877, 22.7, 14.8, 10);
  txt(svg, 1547, 903.5, "oocytes", 26, {anchor: "middle"});
  vtxt(1175, 1322, "maternal gDMRs", 28);

  // colour bar
  const legendY = d3.scaleLinear().domain([0, 100]).range([1742, 1442]);
  svg.append("g").selectAll("rect").data(d3.range(0, 100)).join("rect")
    .attr("x", 1093.5).attr("width", 43)
    .attr("y", d => legendY(d + 1)).attr("height", d => legendY(d) - legendY(d + 1) + 0.5)
    .attr("fill", d => color(d + 0.5));
  svg.append("g").attr("transform", "translate(1083,0)")
    .call(d3.axisLeft(legendY).tickValues(heatTicks).tickSize(5).tickPadding(6))
    .call(g => g.select(".domain").attr("stroke", "#666").attr("stroke-width", 1.5))
    .call(g => {
      g.selectAll("text").attr("font-size", 22.4).attr("font-family", FONT).attr("fill", "#111");
      g.selectAll("line").attr("stroke", "#666").attr("stroke-width", 1.3);
    });
  txt(svg, 992, 1450, "(%)", 22.4);
}

// ---------- panel h
{
  const y = d3.scaleLinear().domain([0, 100]).range([2380.7, 1898.9]);
  const x = d3.scaleLinear().domain([1, 2]).range([1517.7, 1668]);
  frame(1427, 1758, 1875, 2405);
  txt(svg, 1591.7, 1866.7, "ZFP57 binding sites", 27, {anchor: "middle"});
  svg.append("g").attr("transform", "translate(1427,0)")
    .call(d3.axisLeft(y).tickValues(hTicks).tickSize(8).tickPadding(8))
    .call(styleAxis, 22);
  svg.append("g").attr("transform", "translate(0,2405)")
    .call(d3.axisBottom(x).tickValues([1, 2]).tickSize(7).tickFormat(""))
    .call(styleAxis, 22);
  txt(svg, 1332, 1906, "(%)", 23);
  vtxt(1366.4, 2143.5, "Methylated CpGs", 26);

  dots(hControlJitter.map(d => x(1 + d)), hControlMeth.map(y), 5.5, DARK, "#1a5566");
  dots(hKhdcJitter.map(d => x(2 + d)), hKhdcMeth.map(y), 5.5, LIGHT, "#2a5060");
  hline(x(1) - 38, x(1) + 38, y(hMedians[0]), 2.4);
  hline(x(2) - 38, x(2) + 38, y(hMedians[1]), 2.4);

  txt(svg, x(1), 2440.5, "Control", 26, {anchor: "middle"});
  txt(svg, x(1), 2472.6, "oocytes", 26, {anchor: "middle"});
  khdc(svg, 1588, 2440.5, 26, 16.7, 10, true);
  txt(svg, x(2), 2472.6, "oocytes", 26, {anchor: "middle"});
}
</script>
</body>
</html>
